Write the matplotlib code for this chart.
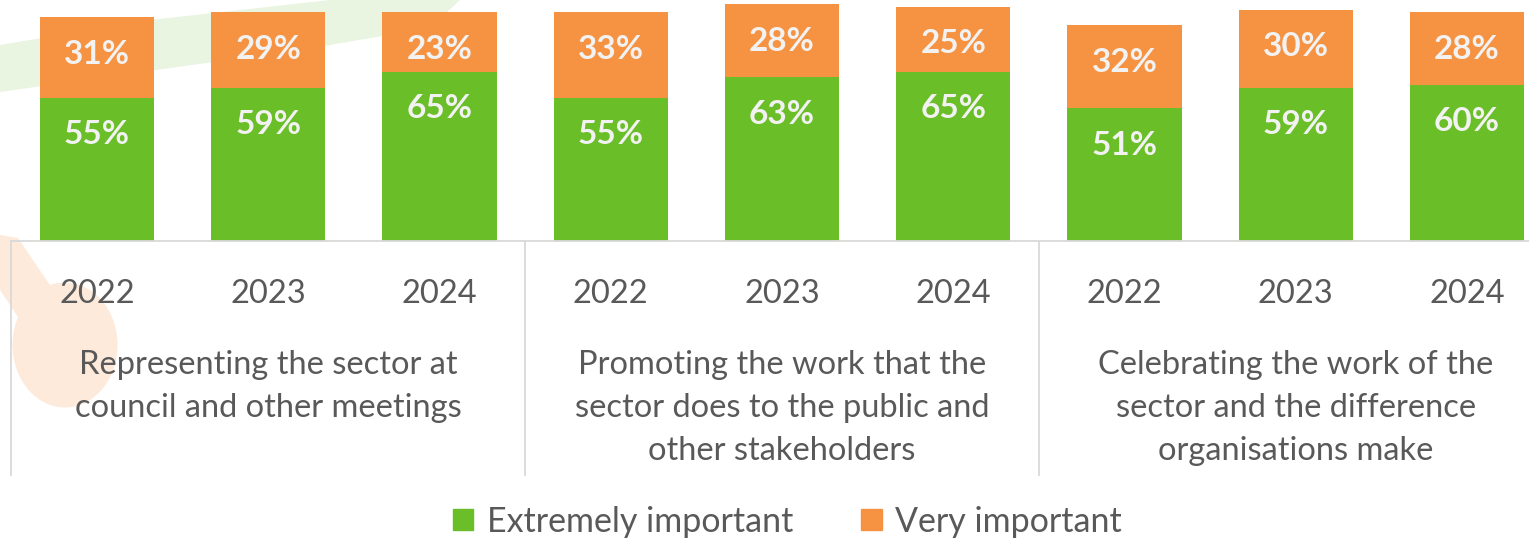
import matplotlib
matplotlib.use('Agg')
import matplotlib.pyplot as plt
import matplotlib.patches as mpatches
import matplotlib.transforms as mtransforms
import numpy as np

plt.rcParams['font.family'] = ['Lato', 'DejaVu Sans']

# ── Data ──
years = ['2022', '2023', '2024']
groups = ['Representing the sector at\ncouncil and other meetings',
          'Promoting the work that the\nsector does to the public and\nother stakeholders',
          'Celebrating the work of the\nsector and the difference\norganisations make']
extremely = [55, 59, 65, 55, 63, 65, 51, 59, 60]
very = [31, 29, 23, 33, 28, 25, 32, 30, 28]

GREEN = '#6abe28'
ORANGE = '#f69342'
TEXT = '#595959'
LINE = '#d9d9d9'

fig = plt.figure(figsize=(15.29, 5.40), dpi=100)

# faint logo in the background
bg = fig.add_axes([0, 0, 1, 1], zorder=-1)
bg.set_xlim(0, 1529)
bg.set_ylim(540, 0)
bg.axis('off')
bg.add_patch(mpatches.Polygon([(0, 45), (150, 20), (330, 0), (460, 0), (430, 28),
                               (300, 50), (120, 75), (0, 92)],
                              closed=True, color='#e9f4e1', lw=0))
bg.add_patch(mpatches.Polygon([(0, 235), (18, 238), (60, 300), (20, 320), (0, 290)],
                              closed=True, color='#fdeadb', lw=0))
bg.add_patch(mpatches.Ellipse((65, 345), 105, 125, color='#fdeadb', lw=0))

ax = fig.add_axes([11.4 / 1529, 299 / 540, 1541.2 / 1529, 241 / 540])
ax.patch.set_alpha(0)

x = np.arange(len(extremely))
ax.bar(x, extremely, width=0.666, color=GREEN)
ax.bar(x, very, width=0.666, bottom=extremely, color=ORANGE)

ax.set_xlim(-0.5, len(x) - 0.5)
ax.set_ylim(0, 92.7)
ax.set_yticks([])
ax.set_xticks([])
for side in ['left', 'right', 'top']:
    ax.spines[side].set_visible(False)
ax.spines['bottom'].set_color(LINE)
ax.spines['bottom'].set_linewidth(1.3)

# value labels near the top of each segment
for xi, e, v in zip(x, extremely, very):
    for top, val in [(e, e), (e + v, v)]:
        ax.annotate(f'{val}%', (xi, top), xytext=(0, -26.5), textcoords='offset points',
                    ha='center', va='center', fontsize=24, fontweight='bold',
                    color='#f2f2f2')

trans = mtransforms.blended_transform_factory(ax.transData, ax.transAxes)

# year labels
for xi in x:
    ax.annotate(years[xi % 3], (xi, 0), xycoords=trans, xytext=(0, -38.5),
                textcoords='offset points', ha='center', va='center',
                fontsize=23.5, color=TEXT)

# group labels
for gi, label in enumerate(groups):
    ax.annotate(label, (gi * 3 + 1, 0), xycoords=trans, xytext=(0, -78.5),
                textcoords='offset points', ha='center', va='top',
                fontsize=23.5, color=TEXT, linespacing=1.55)

# group separators
for sx in [-0.5, 2.5, 5.5]:
    ax.plot([sx, sx], [0, -0.971], transform=trans, color=LINE, lw=1.3, clip_on=False)

handles = [mpatches.Patch(color=GREEN, label='Extremely important'),
           mpatches.Patch(color=ORANGE, label='Very important')]
fig.legend(handles=handles, loc='center', bbox_to_anchor=(0.515, 0.034), ncol=2,
           frameon=False, fontsize=24.5, handlelength=0.6, handleheight=0.6,
           handletextpad=0.4, columnspacing=2.0, labelcolor=TEXT)

fig.savefig('out.png', dpi=100)
